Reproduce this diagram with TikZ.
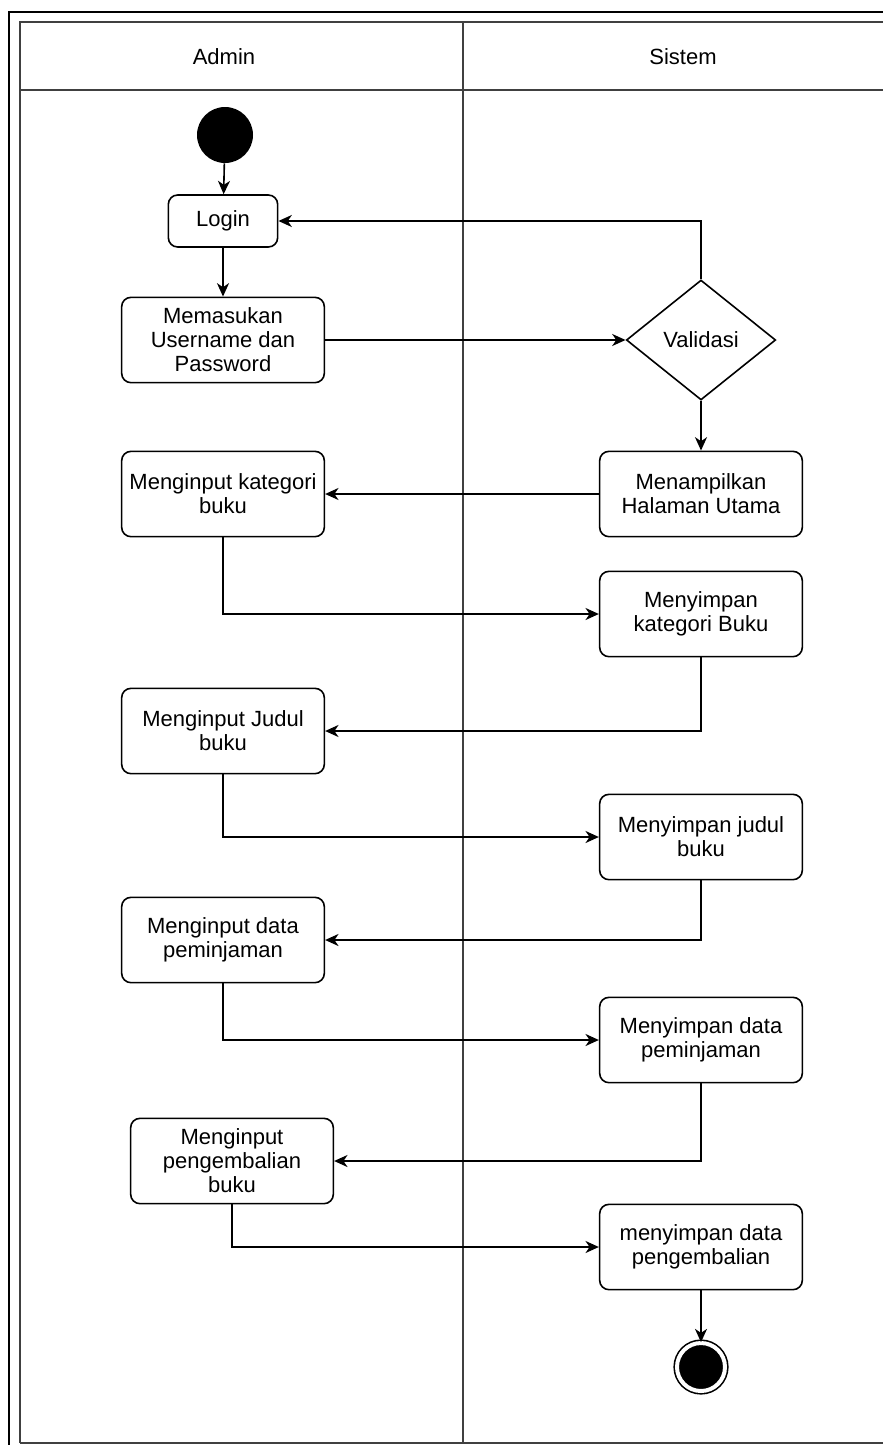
\documentclass[tikz,border=0pt]{standalone}
\usepackage{fontspec}
\setmainfont{Liberation Sans}
\usetikzlibrary{arrows.meta,shapes.geometric}

\begin{document}
\begin{tikzpicture}[
  x=0.75pt, y=-0.75pt,
  font=\fontsize{16.5}{18}\selectfont,
  act/.style={draw, line width=1.2pt, rounded corners=7pt, align=center, minimum width=152pt, minimum height=64pt, inner sep=2pt, fill=white},
  smallact/.style={act, minimum width=82pt, minimum height=39pt},
  decision/.style={draw, line width=1.2pt, diamond, aspect=1.24, align=center, minimum width=112pt, minimum height=90pt, inner sep=0pt, fill=white},
  startnode/.style={circle, fill=black, minimum size=42pt, inner sep=0pt},
  endnode/.style={circle, fill=black, draw, line width=1.2pt, double=white, double distance=3pt, minimum size=36pt, inner sep=0pt},
  arrow/.style={-{Stealth[length=10pt, width=9pt, inset=3pt]}, line width=1.2pt},
  frameline/.style={line width=1.6pt, black},
  laneline/.style={line width=1.2pt, black!75}
]
\useasboundingbox (0,0) rectangle (883,1445);

% swimlanes
\draw[frameline] (9,1445) -- (9,12) -- (883,12);
\draw[laneline] (20,1443) -- (20,22) -- (883,22);
\draw[laneline, line width=2pt] (20,1443) -- (883,1443);
\draw[laneline] (20,90) -- (883,90);
\draw[laneline] (463,22) -- (463,1443);
\node (adminLane) at (224,57) {Admin};
\node (sistemLane) at (683,57) {Sistem};

% admin lane
\node[startnode] (start) at (225,135) {};
\node[smallact] (login) at (223,221) {Login};
\node[act] (masuk) at (223,340) {Memasukan\\Username dan\\Password};
\node[act] (kat) at (223,494) {Menginput kategori\\buku};
\node[act] (judul) at (223,731) {Menginput Judul\\buku};
\node[act] (pinjam) at (223,940) {Menginput data\\peminjaman};
\node[act] (kembali) at (232,1161) {Menginput\\pengembalian\\buku};

% sistem lane
\node[decision] (valid) at (701,340) {Validasi};
\node[act] (tampil) at (701,494) {Menampilkan\\Halaman Utama};
\node[act] (simpankat) at (701,614) {Menyimpan\\kategori Buku};
\node[act] (simpanjudul) at (701,837) {Menyimpan judul\\buku};
\node[act] (simpanpinjam) at (701,1040) {Menyimpan data\\peminjaman};
\node[act] (simpankembali) at (701,1247) {menyimpan data\\pengembalian};
\node[endnode] (finish) at (701,1367) {};

\draw[arrow] (start) -- (login);
\draw[arrow] (login) -- (masuk);
\draw[arrow] (masuk.east) -- (valid.west);
\draw[arrow] (valid.north) |- (login.east);
\draw[arrow] (valid.south) -- (tampil.north);
\draw[arrow] (tampil.west) -- (kat.east);
\draw[arrow] (kat.south) |- (simpankat.west);
\draw[arrow] (simpankat.south) |- (judul.east);
\draw[arrow] (judul.south) |- (simpanjudul.west);
\draw[arrow] (simpanjudul.south) |- (pinjam.east);
\draw[arrow] (pinjam.south) |- (simpanpinjam.west);
\draw[arrow] (simpanpinjam.south) |- (kembali.east);
\draw[arrow] (kembali.south) |- (simpankembali.west);
\draw[arrow] (simpankembali.south) -- (finish.north);
\end{tikzpicture}
\end{document}
